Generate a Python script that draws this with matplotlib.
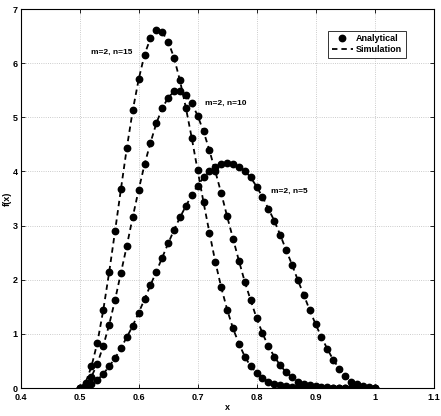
import numpy as np
import matplotlib
matplotlib.use("Agg")
import matplotlib.pyplot as plt

plt.rcParams['font.family'] = ['Liberation Sans', 'DejaVu Sans']

x = np.round(np.arange(0.50, 1.001, 0.01), 2)

f_n15 = [0.00, 0.10, 0.40, 0.84, 1.44, 2.14, 2.90, 3.68, 4.44, 5.13,
         5.70, 6.16, 6.46, 6.62, 6.57, 6.40, 6.10, 5.68, 5.18, 4.62,
         4.02, 3.43, 2.87, 2.33, 1.86, 1.45, 1.10, 0.82, 0.58, 0.40,
         0.28, 0.18, 0.12, 0.08, 0.05, 0.03, 0.02, 0.01, 0.01, 0.00,
         0.00, 0.00, 0.00, 0.00, 0.00, 0.00, 0.00, 0.00, 0.00, 0.00, 0.00]

f_n10 = [0.00, 0.05, 0.21, 0.45, 0.78, 1.17, 1.63, 2.13, 2.63, 3.16,
         3.66, 4.13, 4.53, 4.89, 5.17, 5.36, 5.48, 5.49, 5.41, 5.26,
         5.03, 4.74, 4.39, 4.00, 3.60, 3.17, 2.76, 2.35, 1.96, 1.62,
         1.29, 1.01, 0.77, 0.58, 0.42, 0.29, 0.20, 0.12, 0.08, 0.05,
         0.03, 0.02, 0.01, 0.00, 0.00, 0.00, 0.00, 0.00, 0.00, 0.00, 0.00]

f_n5 = [0.00, 0.03, 0.08, 0.15, 0.26, 0.40, 0.55, 0.74, 0.94, 1.15,
        1.39, 1.64, 1.90, 2.15, 2.41, 2.67, 2.92, 3.15, 3.36, 3.56,
        3.74, 3.89, 4.00, 4.09, 4.13, 4.15, 4.14, 4.09, 4.01, 3.89,
        3.72, 3.53, 3.31, 3.09, 2.83, 2.55, 2.28, 1.99, 1.72, 1.44,
        1.18, 0.94, 0.72, 0.52, 0.36, 0.23, 0.12, 0.07, 0.03, 0.01, 0.00]

series = [f_n15, f_n10, f_n5]
labels = ["m=2, n=15", "m=2, n=10", "m=2, n=5"]
label_pos = [(0.519, 6.2), (0.712, 5.26), (0.824, 3.63)]

xticks = [0.4, 0.5, 0.6, 0.7, 0.8, 0.9, 1.0, 1.1]
xtick_labels = ["0.4", "0.5", "0.6", "0.7", "0.8", "0.9", "1", "1.1"]
yticks = [0, 1, 2, 3, 4, 5, 6, 7]

fig = plt.figure(figsize=(4.41, 4.16), dpi=100)
ax = fig.add_axes([0.047, 0.0673, 0.936, 0.911])

for i, ys in enumerate(series):
    ax.plot(x, ys, linestyle='none', marker='o', markersize=4.6, color='black',
            label='Analytical' if i == 0 else None, zorder=3)
    ax.plot(x, ys, linestyle=(0, (3.0, 2.2)), color='black', linewidth=1.3,
            label='Simulation' if i == 0 else None, zorder=2)

for lab, (tx, ty) in zip(labels, label_pos):
    ax.text(tx, ty, lab, fontsize=6, fontweight='bold', va='center', ha='left')

ax.set_xlim(0.4, 1.1)
ax.set_ylim(0, 7)
ax.set_xticks(xticks)
ax.set_xticklabels(xtick_labels)
ax.set_yticks(yticks)
ax.tick_params(direction='in', top=True, right=True, labelsize=6.5, length=3, width=0.6, pad=2)
ax.tick_params(axis='x', pad=3.5)
for lbl in ax.get_xticklabels() + ax.get_yticklabels():
    lbl.set_fontweight('bold')
ax.grid(True, linestyle=':', color='#bbbbbb', linewidth=0.6)
for s in ax.spines.values():
    s.set_linewidth(0.8)

ax.set_xlabel('x', fontsize=6.5, fontweight='bold', labelpad=1)
ax.set_ylabel('f(x)', fontsize=6.5, fontweight='bold', labelpad=1)

leg = ax.legend(loc='upper right', bbox_to_anchor=(0.937, 0.948),
                prop={'weight': 'bold', 'size': 6.5}, frameon=True, fancybox=False,
                edgecolor='black', handlelength=2.4, borderpad=0.4,
                labelspacing=0.25, handletextpad=0.3, borderaxespad=0.2)
leg.get_frame().set_linewidth(0.7)

fig.savefig('out.png', dpi=100)
